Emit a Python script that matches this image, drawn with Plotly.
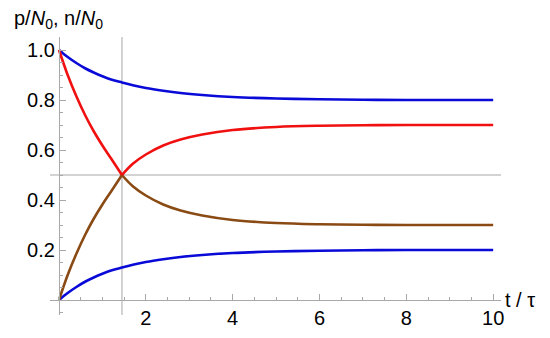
import numpy as np
import plotly.graph_objects as go

# values (t in units of tau)
t_vals = [0, 0.2, 0.4, 0.6, 0.8, 1.0, 1.2, 1.45, 1.7, 2.0, 2.4, 2.8, 3.3, 4.0,
          5.0, 6.0, 7.0, 8.0, 10.0]
blue_upper = [1.0, 0.972, 0.948, 0.927, 0.910, 0.895, 0.882, 0.870, 0.859, 0.848,
              0.837, 0.828, 0.820, 0.812, 0.806, 0.803, 0.801, 0.800, 0.800]
blue_lower = [0.0, 0.028, 0.052, 0.073, 0.090, 0.105, 0.118, 0.130, 0.141, 0.152,
              0.163, 0.172, 0.180, 0.188, 0.194, 0.197, 0.199, 0.200, 0.200]
p_falling = [1.0, 0.900, 0.815, 0.740, 0.675, 0.618, 0.566, 0.500, 0.455, 0.418,
             0.382, 0.358, 0.338, 0.320, 0.308, 0.303, 0.301, 0.300, 0.300]
n_rising = [0.0, 0.100, 0.185, 0.260, 0.325, 0.382, 0.434, 0.500, 0.545, 0.582,
            0.618, 0.642, 0.662, 0.680, 0.692, 0.697, 0.699, 0.700, 0.700]

t_cross = 1.45
y_half = 0.5
x_ticks = [2, 4, 6, 8, 10]
y_ticks = [0.2, 0.4, 0.6, 0.8, 1.0]

t = np.array(t_vals)
upper = np.maximum(p_falling, n_rising)
lower = np.minimum(p_falling, n_rising)
before = t <= t_cross
after = t >= t_cross

BLUE = "#0a0ad8"
RED = "#f01010"
BROWN = "#8a4a14"
AX = "#a8a8a8"
FONT = "Liberation Sans"

fig = go.Figure()


def curve(x, y, color):
    fig.add_trace(go.Scatter(x=x, y=y, mode="lines",
                             line=dict(color=color, width=2.6, shape="spline", smoothing=1.0),
                             showlegend=False, hoverinfo="skip"))


curve(t, blue_upper, BLUE)
curve(t, blue_lower, BLUE)
# brown = lower branch, red = upper branch (split at the crossing so the kink stays sharp)
curve(t[before], lower[before], BROWN)
curve(t[after], lower[after], BROWN)
curve(t[before], upper[before], RED)
curve(t[after], upper[after], RED)

x_range = [-0.207, 10.18]
y_range = [-0.06, 1.052]

fig.add_shape(type="line", xref="x", yref="paper", x0=t_cross, x1=t_cross, y0=0, y1=1,
              line=dict(color="#c4c4c4", width=1.5), layer="below")
fig.add_shape(type="line", xref="paper", yref="y", x0=0, x1=1, y0=y_half, y1=y_half,
              line=dict(color="#c4c4c4", width=1.5), layer="below")

# page body adds an 8px offset, so margins are shifted to compensate
fig.update_layout(
    width=550, height=338,
    margin=dict(l=42, r=57, t=29, b=31, autoexpand=False),
    paper_bgcolor="white", plot_bgcolor="white",
    font=dict(family=FONT, size=20, color="black"),
    xaxis=dict(range=x_range, anchor="free", automargin=False,
               position=(0 - y_range[0]) / (y_range[1] - y_range[0]),
               showgrid=False, zeroline=False, showline=True, linecolor=AX, linewidth=1.3,
               tickvals=x_ticks, ticks="inside", ticklen=6, tickcolor=AX, tickwidth=1,
               minor=dict(dtick=0.5, tick0=0, ticks="inside", ticklen=3, tickcolor=AX),
               tickfont=dict(size=20)),
    yaxis=dict(range=y_range, anchor="free", automargin=False,
               position=(0 - x_range[0]) / (x_range[1] - x_range[0]),
               showgrid=False, zeroline=False, showline=True, linecolor=AX, linewidth=1.3,
               tickvals=y_ticks, tickformat=".1f", ticks="inside", ticklen=6,
               tickcolor=AX, tickwidth=1,
               minor=dict(dtick=0.05, tick0=0, ticks="inside", ticklen=3, tickcolor=AX),
               tickfont=dict(size=20)),
)

fig.add_annotation(xref="paper", yref="paper", x=-0.085, y=1.012, xanchor="left", yanchor="bottom",
                   text="p/<i>N</i><sub>0</sub>, n/<i>N</i><sub>0</sub>",
                   showarrow=False, font=dict(size=20))
fig.add_annotation(xref="paper", yref="y", x=1.005, y=0, xanchor="left", yanchor="middle",
                   text="t / τ", showarrow=False, font=dict(size=20))

fig.write_html("out.html")
